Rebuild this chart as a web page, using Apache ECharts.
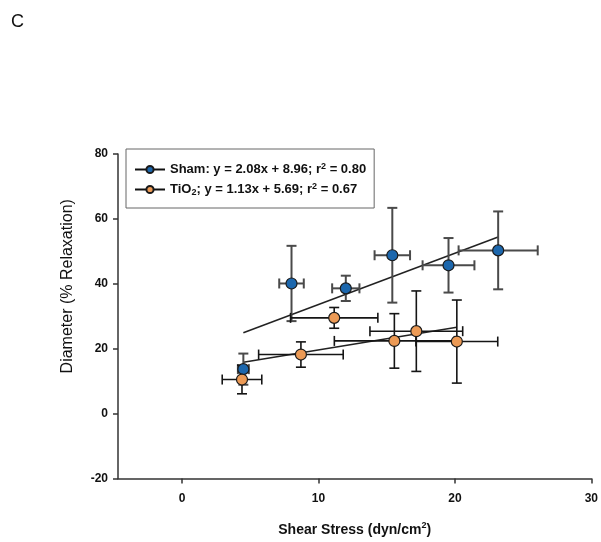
<!DOCTYPE html>
<html><head><meta charset="utf-8">
<script src="https://cdn.jsdelivr.net/npm/echarts@6/dist/echarts.min.js"></script>
<style>html,body{margin:0;padding:0;background:#fff}#c{width:601px;height:542px}</style>
</head><body><div id="c"></div>
<script>
// Data
var xTicks = [0, 10, 20, 30];
var yTicks = [-20, 0, 20, 40, 60, 80];
var shamX    = [4.49, 8.02, 12.0, 15.41, 19.53, 23.17];
var shamY    = [13.7, 40.1, 38.6, 48.8, 45.7, 50.3];
var shamXErr = [0.4, 0.9, 1.0, 1.3, 1.9, 2.9];
var shamYErr = [4.8, 11.6, 3.9, 14.6, 8.4, 12.0];
var tioX     = [4.39, 8.71, 11.15, 15.56, 17.17, 20.14];
var tioY     = [10.5, 18.2, 29.5, 22.4, 25.4, 22.2];
var tioXErr  = [1.45, 3.1, 3.2, 4.4, 3.4, 3.0];
var tioYErr  = [4.4, 3.9, 3.2, 8.4, 12.4, 12.8];
var shamFitX = [4.49, 23.17];
var shamFitY = [24.9, 54.4];
var tioFitX  = [4.49, 20.14];
var tioFitY  = [15.8, 26.6];
var seriesNames = ['Sham', 'TiO2'];

function pts(xs, ys){ return xs.map(function(x,i){ return [x, ys[i]]; }); }
function errs(xs, ys, xe, ye){ return xs.map(function(x,i){ return [x, ys[i], xe[i], ye[i]]; }); }

function errRender(color, width){
  return function(params, api){
    var x = api.value(0), y = api.value(1), xe = api.value(2), ye = api.value(3);
    var t = api.coord([x, y + ye]), b = api.coord([x, y - ye]);
    var l = api.coord([x - xe, y]), r = api.coord([x + xe, y]);
    var c = 5;
    var st = {stroke: color, lineWidth: width};
    function ln(x1,y1,x2,y2){ return {type:'line', shape:{x1:x1,y1:y1,x2:x2,y2:y2}, style:st}; }
    return {type:'group', children:[
      ln(t[0], t[1], b[0], b[1]),
      ln(t[0]-c, t[1], t[0]+c, t[1]),
      ln(b[0]-c, b[1], b[0]+c, b[1]),
      ln(l[0], l[1], r[0], r[1]),
      ln(l[0], l[1]-c, l[0], l[1]+c),
      ln(r[0], r[1]-c, r[0], r[1]+c)
    ]};
  };
}

var font = 'Liberation Sans, Arial, sans-serif';
var chart = echarts.init(document.getElementById('c'), null, {renderer:'canvas'});
chart.setOption({
  animation: false,
  backgroundColor: '#fff',
  title: {text: 'C', left: 6, top: 8, textStyle: {fontFamily: font, fontSize: 18, fontWeight: 'normal', color: '#111'}},
  grid: {left: 118, right: 9, top: 154, bottom: 60},
  legend: {
    orient: 'vertical', left: 126, top: 149,
    data: seriesNames,
    borderColor: '#666', borderWidth: 1,
    padding: [13, 8, 11, 8], itemGap: 6,
    itemWidth: 30, itemHeight: 9,
    lineStyle: {color: '#111', width: 2, opacity: 1, type: 'solid'},
    formatter: function(n){
      if (n === 'Sham') return '{b|Sham: y = 2.08x + 8.96; r}{sup|2}{b| = 0.80}';
      return '{b|TiO}{sub|2}{b|; y = 1.13x + 5.69; r}{sup|2}{b| = 0.67}';
    },
    textStyle: {
      fontFamily: font, fontSize: 13, fontWeight: 'bold', color: '#111',
      rich: {
        b: {fontFamily: font, fontSize: 13, fontWeight: 'bold', color: '#111'},
        sup: {fontFamily: font, fontSize: 9, fontWeight: 'bold', color: '#111', verticalAlign: 'top', padding: [0,0,6,0]},
        sub: {fontFamily: font, fontSize: 9, fontWeight: 'bold', color: '#111', verticalAlign: 'bottom', padding: [6,0,0,0]}
      }
    }
  },
  xAxis: {
    type: 'value', min: -4.7, max: 30,
    name: '{t|Shear Stress (dyn/cm}{s|2}{t|)}', nameLocation: 'middle', nameGap: 43,
    nameTextStyle: {rich: {
      t: {fontFamily: font, fontSize: 14, fontWeight: 'bold', color: '#111'},
      s: {fontFamily: font, fontSize: 9, fontWeight: 'bold', color: '#111', verticalAlign: 'top', padding: [0,0,8,0]}
    }},
    axisLine: {onZero: false, lineStyle: {color: '#333', width: 1.5}},
    axisTick: {show: true, inside: false, length: 5, customValues: xTicks, lineStyle: {color: '#333', width: 1.5}},
    axisLabel: {customValues: xTicks, margin: 14, fontFamily: font, fontSize: 12, fontWeight: 'bold', color: '#111'},
    splitLine: {show: false}
  },
  yAxis: {
    type: 'value', min: -20, max: 80, interval: 20,
    name: 'Diameter (% Relaxation)', nameLocation: 'middle', nameGap: 42,
    nameTextStyle: {fontFamily: font, fontSize: 16, color: '#111', padding: [0, 0, 0, 60]},
    axisLine: {show: true, onZero: false, lineStyle: {color: '#333', width: 1.5}},
    axisTick: {show: true, inside: false, length: 5, lineStyle: {color: '#333', width: 1.5}},
    axisLabel: {margin: 10, fontFamily: font, fontSize: 12, fontWeight: 'bold', color: '#111'},
    splitLine: {show: false}
  },
  series: [
    {type: 'line', name: 'shamFit', data: pts(shamFitX, shamFitY), showSymbol: false, symbol: 'none', silent: true,
     lineStyle: {color: '#222', width: 1.5}, z: 2},
    {type: 'line', name: 'tioFit', data: pts(tioFitX, tioFitY), showSymbol: false, symbol: 'none', silent: true,
     lineStyle: {color: '#222', width: 1.5}, z: 2},
    {type: 'custom', name: 'shamErr', data: errs(shamX, shamY, shamXErr, shamYErr), renderItem: errRender('#4a4a4a', 2), z: 3, silent: true},
    {type: 'custom', name: 'tioErr', data: errs(tioX, tioY, tioXErr, tioYErr), renderItem: errRender('#151515', 1.6), z: 3, silent: true},
    {type: 'line', name: 'Sham', data: pts(shamX, shamY), symbol: 'circle', symbolSize: 11, showSymbol: true,
     lineStyle: {width: 0, opacity: 0}, itemStyle: {color: '#1c67ad', borderColor: '#1a1a1a', borderWidth: 1.2}, z: 5},
    {type: 'line', name: 'TiO2', data: pts(tioX, tioY), symbol: 'circle', symbolSize: 11, showSymbol: true,
     lineStyle: {width: 0, opacity: 0}, itemStyle: {color: '#ec9a55', borderColor: '#1a1a1a', borderWidth: 1.2}, z: 5}
  ]
});
</script></body></html>
